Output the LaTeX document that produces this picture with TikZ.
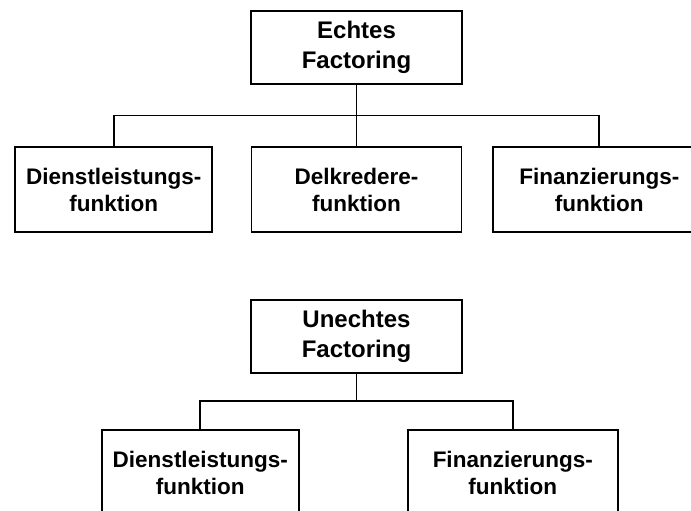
\documentclass[tikz,border=0pt]{standalone}
\usepackage{fontspec}
\setmainfont{Liberation Sans}
\usetikzlibrary{calc, positioning}

\tikzset{
  headbox/.style={draw, minimum width=211pt, minimum height=73pt,
    inner sep=0pt, align=center, font=\bfseries\fontsize{24}{30.5}\selectfont},
  funcbox/.style={draw, minimum height=85pt,
    inner sep=0pt, align=center, font=\bfseries\fontsize{22.5}{27}\selectfont},
}

\begin{document}
\begin{tikzpicture}[
  x=1pt, y=1pt, line width=1.8pt,
  edge from parent/.style={draw, line width=1.8pt},
  edge from parent path={(\tikzparentnode.south)
    |- ($(\tikzparentnode.south)!0.5!(\tikzchildnode.north)$)
    -| (\tikzchildnode.north)},
]
  \useasboundingbox (0,0) rectangle (691,511);

  % echtes Factoring
  \node[headbox] (echt) at (356.5,463.5) {Echtes\\Factoring}
    [level distance=142pt, sibling distance=242.75pt]
    child { node[funcbox, minimum width=197pt] (echtDienst) {Dienstleistungs-\\funktion} }
    child { node[funcbox, minimum width=210pt] (echtDelk) {Delkredere-\\funktion} }
    child { node[funcbox, minimum width=212pt] (echtFin) {Finanzierungs-\\funktion} };

  % unechtes Factoring
  \node[headbox] (unecht) at (356.5,174.7) {Unechtes\\Factoring}
    [level distance=136.2pt, sibling distance=312.5pt]
    child { node[funcbox, minimum width=197pt] (unechtDienst) {Dienstleistungs-\\funktion} }
    child { node[funcbox, minimum width=210pt] (unechtFin) {Finanzierungs-\\funktion} };
\end{tikzpicture}
\end{document}
